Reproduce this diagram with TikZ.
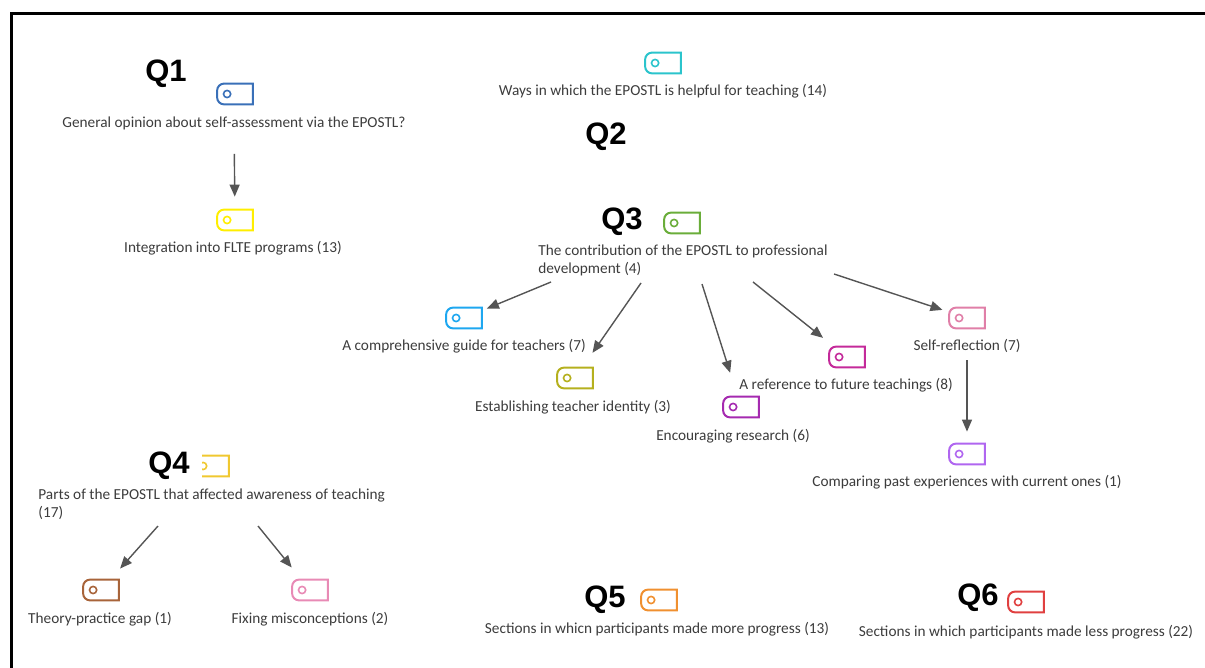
\documentclass[tikz,border=0pt]{standalone}
\usepackage{fontspec}
\setmainfont{Carlito}
\newfontfamily\qfont{Liberation Sans}
\usetikzlibrary{arrows.meta}

\definecolor{tagblue}{HTML}{3A70B8}
\definecolor{tagyellow}{HTML}{FFEE00}
\definecolor{tagcyan}{HTML}{2BC4CC}
\definecolor{taggreen}{HTML}{6AAD3A}
\definecolor{tagazure}{HTML}{1EA7F0}
\definecolor{tagolive}{HTML}{B5B01E}
\definecolor{tagpurple}{HTML}{A52AB0}
\definecolor{tagmagenta}{HTML}{C42A9A}
\definecolor{tagpink}{HTML}{E07FA8}
\definecolor{tagviolet}{HTML}{B066F0}
\definecolor{taggold}{HTML}{F0C830}
\definecolor{tagbrown}{HTML}{A8643A}
\definecolor{taglpink}{HTML}{E88AB5}
\definecolor{tagorange}{HTML}{F09030}
\definecolor{tagred}{HTML}{E04040}
\definecolor{txtgray}{HTML}{3C3C3C}
\definecolor{arrgray}{HTML}{555555}

\begin{document}
\begin{tikzpicture}[x=0.5pt,y=-0.5pt,
    arr/.style={draw=arrgray, line width=0.7pt, -{Triangle[length=6pt,width=5pt]}}]

  \useasboundingbox (0,0) rectangle (1205,668);
  \draw[line width=1.5pt] (11,668) -- (11,14) -- (1205,14);

  % code tags
  \begin{scope}[every node/.style={minimum width=17.5pt, minimum height=10pt, inner sep=0pt}]
    \node (t1)  at (235,94)  {};
    \node (t2)  at (235,220) {};
    \node (t3)  at (663,63)  {};
    \node (t4)  at (682,223) {};
    \node (t5)  at (464,318) {};
    \node (t6)  at (575,378) {};
    \node (t7)  at (741,407) {};
    \node (t8)  at (847,357) {};
    \node (t9)  at (967,318) {};
    \node (t10) at (967,454) {};
    \node (t11) at (211,466) {};
    \node (t12) at (101,590) {};
    \node (t13) at (310,590) {};
    \node (t14) at (659,600) {};
    \node (t15) at (1026,602) {};
  \end{scope}

  \foreach \n/\c in {t1/tagblue, t2/tagyellow, t3/tagcyan, t4/taggreen,
      t5/tagazure, t6/tagolive, t7/tagpurple, t8/tagmagenta, t9/tagpink,
      t10/tagviolet, t11/taggold, t12/tagbrown, t13/taglpink,
      t14/tagorange, t15/tagred} {
    \draw[\c, line width=1pt] (\n.north east) -- (\n.south east)
      -- ([xshift=3.5pt]\n.south west) arc[start angle=270, end angle=180, radius=3.5pt]
      -- ([yshift=-3.5pt]\n.north west) arc[start angle=180, end angle=90, radius=3.5pt]
      -- cycle;
    \draw[\c, line width=0.8pt] ([xshift=5pt]\n.west) circle[radius=1.8pt];
  }

  % question headings
  \begin{scope}[every node/.style={font=\qfont\bfseries\fontsize{15.5}{18}\selectfont}]
    \node (q1) at (166,74)  {Q1};
    \node (q2) at (606,137) {Q2};
    \node (q3) at (622,222) {Q3};
    \node[fill=white, inner sep=6pt] (q4) at (169,466) {Q4};
    \node (q5) at (605,600) {Q5};
    \node (q6) at (978,598) {Q6};
  \end{scope}

  % code labels
  \begin{scope}[every node/.style={font=\fontsize{7.65}{9}\selectfont, text=txtgray, inner sep=1pt}]
    \node (l1)  at (234,123) {General opinion about self-assessment via the EPOSTL?};
    \node (l2)  at (233,248) {Integration into FLTE programs (13)};
    \node (l3)  at (663,91)  {Ways in which the EPOSTL is helpful for teaching (14)};
    \node[anchor=west, align=left] (l4) at (536,260.5)
      {The contribution of the EPOSTL to professional\\development (4)};
    \node (l5)  at (464,346) {A comprehensive guide for teachers (7)};
    \node (l6)  at (573,407) {Establishing teacher identity (3)};
    \node (l7)  at (733,436) {Encouraging research (6)};
    \node (l8)  at (846,385) {A reference to future teachings (8)};
    \node (l9)  at (967,346) {Self-reflection (7)};
    \node (l10) at (967,482) {Comparing past experiences with current ones (1)};
    \node[anchor=west, align=left] (l11) at (36,504)
      {Parts of the EPOSTL that affected awareness of teaching\\(17)};
    \node (l12) at (100,619) {Theory-practice gap (1)};
    \node (l13) at (310,619) {Fixing misconceptions (2)};
    \node (l14) at (657,629) {Sections in whicn participants made more progress (13)};
    \node (l15) at (1026,632) {Sections in which participants made less progress (22)};
  \end{scope}

  % arrow starts
  \coordinate (s1) at (551,282);
  \coordinate (s2) at (641,283);
  \coordinate (s3) at (702,284);
  \coordinate (s4) at (753,282);
  \coordinate (s5) at (834,274);
  \coordinate (s6) at (158,526);
  \coordinate (s7) at (258,526);

  \draw[arr, shorten <=11pt, shorten >=6.5pt] (l1) -- (t2);
  \draw[arr, shorten >=2.7pt] (s1) -- (t5);
  \draw[arr, shorten >=9pt]   (s2) -- (t6);
  \draw[arr, shorten >=12.5pt] (s3) -- (t7);
  \draw[arr, shorten >=7pt]   (s4) -- (t8);
  \draw[arr, shorten >=3.5pt] (s5) -- (t9);
  \draw[arr, shorten <=2.5pt, shorten >=6pt] (l9) -- (t10);
  \draw[arr, shorten >=7.4pt] (s6) -- (t12);
  \draw[arr, shorten >=7.8pt] (s7) -- (t13);

\end{tikzpicture}
\end{document}
